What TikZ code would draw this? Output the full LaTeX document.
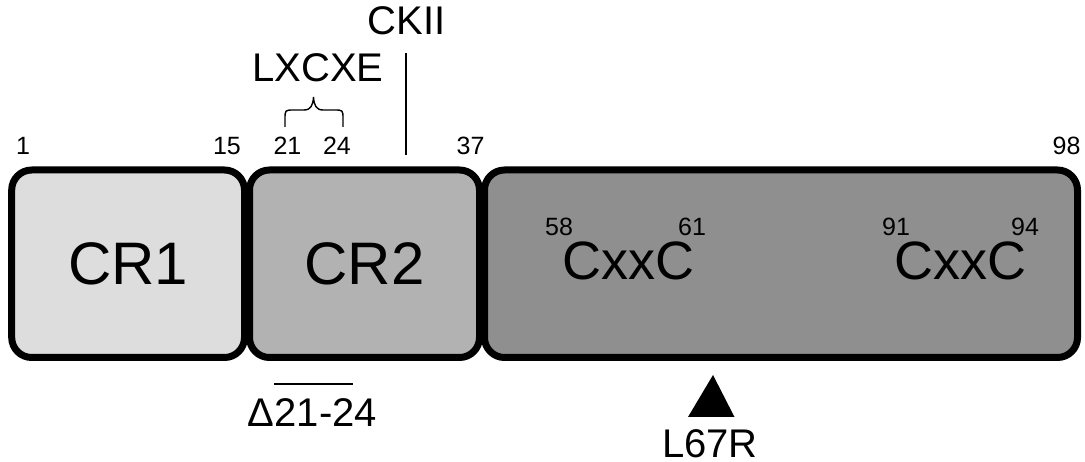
\documentclass[tikz,border=0pt]{standalone}
\usepackage{fontspec}
\setmainfont{Liberation Sans}
\definecolor{crone}{RGB}{221,221,221}
\definecolor{crtwo}{RGB}{178,178,178}
\definecolor{crthree}{RGB}{143,143,143}
\begin{document}
\begin{tikzpicture}[x=1pt,y=-1pt,
  domainbox/.style={draw=black, line width=7pt, rounded corners=20pt,
    minimum height=187.5pt, inner sep=0pt, outer sep=0pt,
    font=\fontsize{60}{72}\selectfont},
  motif/.style={anchor=base west, inner sep=0pt, font=\fontsize{54}{64}\selectfont},
  resnum/.style={anchor=base, inner sep=0pt, font=\fontsize{25}{30}\selectfont},
  suplabel/.style={anchor=base west, inner sep=0pt, font=\fontsize{25}{30}\selectfont},
  annot/.style={anchor=base, inner sep=0pt, font=\fontsize{40}{48}\selectfont},
  thin/.style={line width=1.4pt},
  tick/.style={line width=2pt}]
\useasboundingbox (0,0) rectangle (1085,462);

% domains
\node[domainbox, fill=crone,   minimum width=232.8pt] (cr1) at (128.1,263.75) {CR1};
\node[domainbox, fill=crtwo,   minimum width=230pt]   (cr2) at (364.5,263.75) {CR2};
\node[domainbox, fill=crthree, minimum width=593pt]   (cr3) at (781,263.75) {};

% zinc-binding motifs
\node[motif] (m1) at (562,280) {CxxC};
\node[motif] (m2) at (894,280) {CxxC};
\node[suplabel] (s58) at (545,236) {58};
\node[suplabel] (s61) at (678,236) {61};
\node[suplabel] (s91) at (882,236) {91};
\node[suplabel] (s94) at (1011,236) {94};

% residue numbers
\node[resnum] (n1)  at (23,155)   {1};
\node[resnum] (n15) at (227,155)  {15};
\node[resnum] (n21) at (287.5,155){21};
\node[resnum] (n24) at (337,155)  {24};
\node[resnum] (n37) at (470.5,155){37};
\node[resnum] (n98) at (1066.5,155){98};

% LXCXE motif with brace
\node[annot] (lx) at (318,82) {LXCXE};
\coordinate (bl) at (285,127);
\coordinate (br) at (343,127);
\draw[thin] (bl) -- (285,119) .. controls (285,110) .. (294,110) -- (304,110)
  .. controls (311,110) and (313,105) .. (313.5,97)
  .. controls (314,105) and (316,110) .. (323,110) -- (334,110)
  .. controls (343,110) .. (343,119) -- (br);

% CKII site
\node[annot] (ck) at (406.5,35) {CKII};
\coordinate (cktop) at (406,53);
\coordinate (ckbot) at (406,155);
\draw[tick] (cktop) -- (ckbot);

% deletion
\node[annot] (del) at (312.5,427) {Δ21-24};
\coordinate (dl) at (274,384);
\coordinate (dr) at (353,384);
\draw[tick] (dl) -- (dr);

% point mutation
\coordinate (tapex) at (713,375);
\coordinate (tr) at (734.5,417);
\coordinate (tl) at (688,417);
\fill[black] (tapex) -- (tr) -- (tl) -- cycle;
\node[annot] (mut) at (710,457) {L67R};
\end{tikzpicture}
\end{document}
